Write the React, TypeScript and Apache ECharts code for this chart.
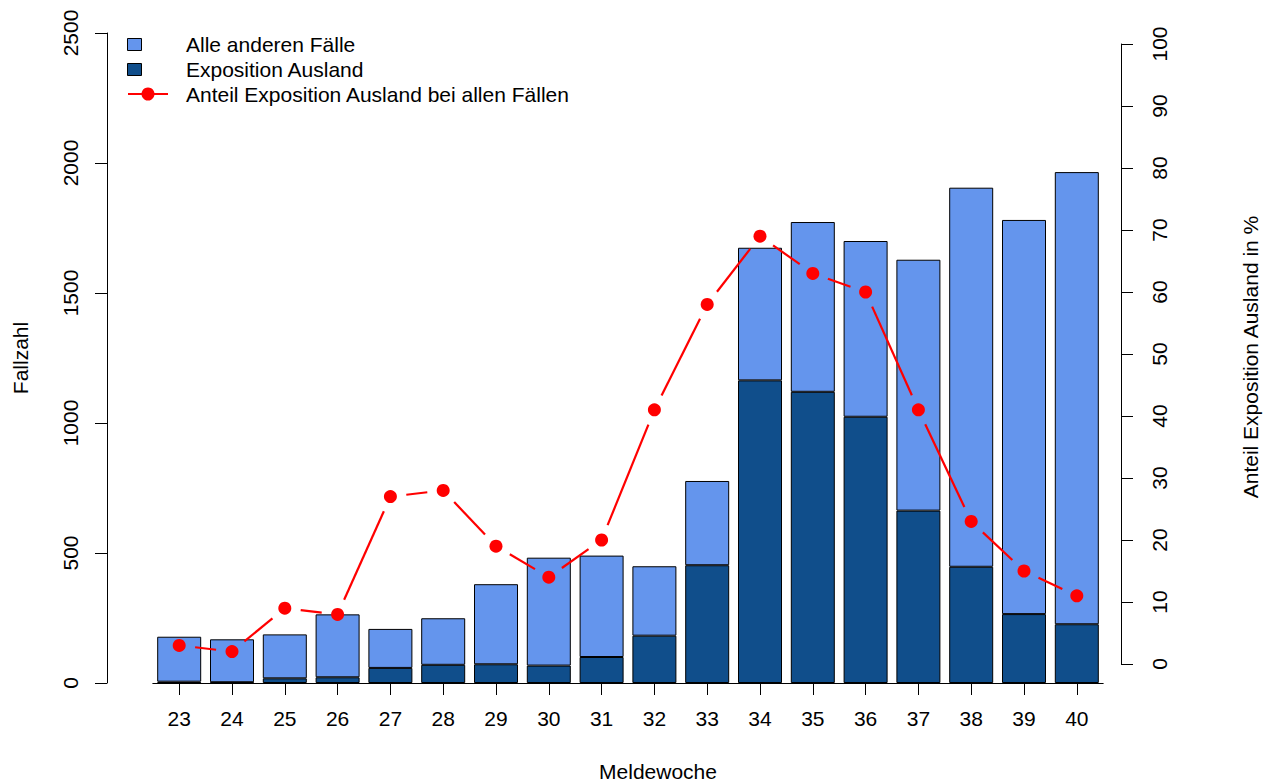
import React, { useEffect, useRef } from "react";
import * as echarts from "echarts";

const weeks = ["23", "24", "25", "26", "27", "28", "29", "30", "31", "32", "33", "34", "35", "36", "37", "38", "39", "40"];
const expoAusland = [5, 3, 18, 22, 58, 70, 72, 67, 100, 182, 453, 1164, 1120, 1024, 663, 447, 265, 226];
const alleAnderen = [173, 165, 169, 242, 150, 179, 308, 415, 390, 267, 324, 510, 653, 676, 965, 1458, 1516, 1739];
const anteilPct = [3, 2, 9, 8, 27, 28, 19, 14, 20, 41, 58, 69, 63, 60, 41, 23, 15, 11];
const leftTicks = { min: 0, max: 2500, interval: 500 };
const rightTicks = { min: 0, max: 100, interval: 10 };

const FONT = '"Liberation Sans", Arial, Helvetica, sans-serif';
const FS = 21;
const LIGHT = "#6495ED";
const DARK = "#104E8B";

export default function App() {
  const ref = useRef<HTMLDivElement>(null);
  useEffect(() => {
    if (!ref.current) return;
    const chart = echarts.init(ref.current, null, { renderer: "svg" });
    const gridLeft = 152.8;
    const gridWidth = 950.4;
    const labelStyle = { color: "#000", fontSize: FS, fontFamily: FONT };
    const gap = 16;
    const option: any = {
      animation: false,
      backgroundColor: "#fff",
      grid: [
        { left: gridLeft, top: 33, width: gridWidth, height: 650, outerBoundsMode: "none", containLabel: false },
        { left: gridLeft, top: 44, width: gridWidth, height: 620, outerBoundsMode: "none", containLabel: false },
      ],
      xAxis: [
        {
          type: "category",
          gridIndex: 0,
          data: weeks,
          axisLine: { show: true, lineStyle: { color: "#000", width: 1 } },
          axisTick: { show: true, alignWithLabel: true, length: 12, lineStyle: { color: "#000" } },
          axisLabel: { ...labelStyle, margin: 25, interval: 0 },
          splitLine: { show: false },
        },
        { type: "category", gridIndex: 1, data: weeks, show: false },
      ],
      yAxis: [
        {
          type: "value",
          gridIndex: 0,
          position: "left",
          offset: gridLeft - 107,
          min: leftTicks.min,
          max: leftTicks.max,
          interval: leftTicks.interval,
          axisLine: { show: true, lineStyle: { color: "#000", width: 1 } },
          axisTick: { show: true, length: 12, lineStyle: { color: "#000" } },
          axisLabel: { ...labelStyle, rotate: 90, margin: 26, showMinLabel: true, showMaxLabel: true, formatter: (v: number) => String(v) },
          splitLine: { show: false },
        },
        {
          type: "value",
          gridIndex: 1,
          position: "right",
          offset: 1121 - (gridLeft + gridWidth),
          min: rightTicks.min,
          max: rightTicks.max,
          interval: rightTicks.interval,
          axisLine: { show: true, lineStyle: { color: "#000", width: 1 } },
          axisTick: { show: true, length: 12, lineStyle: { color: "#000" } },
          axisLabel: { ...labelStyle, rotate: 90, margin: 28, showMinLabel: true, showMaxLabel: true, formatter: (v: number) => String(v) },
          splitLine: { show: false },
        },
      ],
      series: [
        {
          name: "Exposition Ausland",
          type: "bar",
          stack: "faelle",
          xAxisIndex: 0,
          yAxisIndex: 0,
          data: expoAusland,
          barWidth: 44,
          itemStyle: { color: DARK, borderColor: "#000", borderWidth: 1 },
        },
        {
          name: "Alle anderen Fälle",
          type: "bar",
          stack: "faelle",
          xAxisIndex: 0,
          yAxisIndex: 0,
          data: alleAnderen,
          barWidth: 44,
          itemStyle: { color: LIGHT, borderColor: "#000", borderWidth: 1 },
        },
        {
          name: "Anteil Exposition Ausland bei allen Fällen",
          type: "custom",
          xAxisIndex: 1,
          yAxisIndex: 1,
          data: anteilPct.map((v, i) => [i, v]),
          renderItem: (params: any, api: any) => {
            const i = params.dataIndex;
            if (i >= anteilPct.length - 1) return null;
            const p0 = api.coord([i, anteilPct[i]]);
            const p1 = api.coord([i + 1, anteilPct[i + 1]]);
            const dx = p1[0] - p0[0];
            const dy = p1[1] - p0[1];
            const len = Math.sqrt(dx * dx + dy * dy);
            if (len <= 2 * gap) return null;
            const ux = dx / len;
            const uy = dy / len;
            return {
              type: "line",
              shape: {
                x1: p0[0] + ux * gap,
                y1: p0[1] + uy * gap,
                x2: p1[0] - ux * gap,
                y2: p1[1] - uy * gap,
              },
              style: { stroke: "#FF0000", lineWidth: 2.2 },
            };
          },
          z: 5,
        },
        {
          name: "Anteil Punkte",
          type: "scatter",
          xAxisIndex: 1,
          yAxisIndex: 1,
          data: anteilPct,
          symbol: "circle",
          symbolSize: 13,
          itemStyle: { color: "#FF0000", opacity: 1 },
          z: 6,
        },
      ],
      graphic: [
        { type: "rect", shape: { x: 127.5, y: 38.5, width: 14, height: 12 }, style: { fill: LIGHT, stroke: "#000", lineWidth: 1 } },
        { type: "rect", shape: { x: 127.5, y: 63.5, width: 14, height: 12 }, style: { fill: DARK, stroke: "#000", lineWidth: 1 } },
        { type: "line", shape: { x1: 128, y1: 94, x2: 168, y2: 94 }, style: { stroke: "#FF0000", lineWidth: 2 } },
        { type: "circle", shape: { cx: 148, cy: 94, r: 6.5 }, style: { fill: "#FF0000" } },
        { type: "text", x: 186, y: 44, style: { text: "Alle anderen Fälle", font: `${FS}px ${FONT}`, fill: "#000", align: "left", verticalAlign: "middle" } },
        { type: "text", x: 186, y: 69, style: { text: "Exposition Ausland", font: `${FS}px ${FONT}`, fill: "#000", align: "left", verticalAlign: "middle" } },
        { type: "text", x: 186, y: 94, style: { text: "Anteil Exposition Ausland bei allen Fällen", font: `${FS}px ${FONT}`, fill: "#000", align: "left", verticalAlign: "middle" } },
        { type: "text", x: 658, y: 771, style: { text: "Meldewoche", font: `${FS}px ${FONT}`, fill: "#000", align: "center", verticalAlign: "middle" } },
        { type: "text", x: 20, y: 358, rotation: Math.PI / 2, style: { text: "Fallzahl", font: `${FS}px ${FONT}`, fill: "#000", align: "center", verticalAlign: "middle" } },
        { type: "text", x: 1250, y: 357, rotation: Math.PI / 2, style: { text: "Anteil Exposition Ausland in %", font: `${FS}px ${FONT}`, fill: "#000", align: "center", verticalAlign: "middle" } },
      ],
    };
    chart.setOption(option);
    return () => chart.dispose();
  }, []);
  return <div ref={ref} style={{ position: "absolute", left: 0, top: 0, width: 1266, height: 782 }} />;
}
